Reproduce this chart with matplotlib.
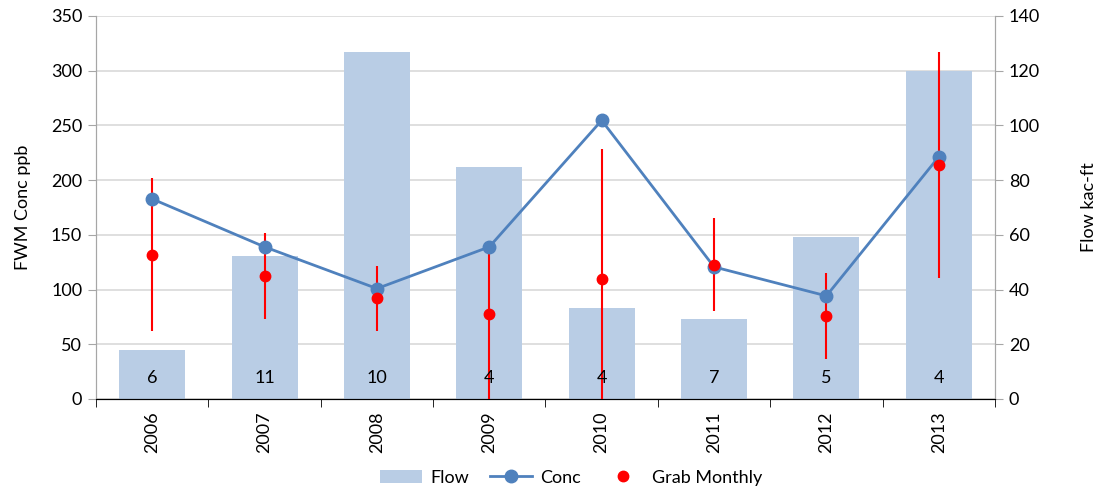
import matplotlib
matplotlib.use("Agg")
import matplotlib.pyplot as plt
import numpy as np
from matplotlib.lines import Line2D
from matplotlib.patches import Patch

plt.rcParams['font.family'] = ['Lato', 'DejaVu Sans']

years = ["2006", "2007", "2008", "2009", "2010", "2011", "2012", "2013"]
flow = [17.9, 52.3, 126.9, 84.9, 33.4, 29.3, 59.2, 120.0]          # kac-ft (right axis)
conc = [182.8, 139.0, 100.9, 139.0, 254.6, 120.7, 94.2, 221.3]       # FWM conc ppb
grab = [131.9, 112.4, 92.4, 78.1, 110.0, 122.8, 76.0, 214.0]         # grab monthly mean
grab_hi = [201.7, 151.7, 121.5, 139.0, 228.7, 165.5, 115.5, 317.4]
grab_lo = [62.2, 73.1, 62.1, 0.0, 0.0, 80.3, 36.7, 110.7]
counts = ["6", "11", "10", "4", "4", "7", "5", "4"]

BAR = "#B9CDE5"
LINE = "#4F81BD"
RED = "#FF0000"
GRID = "#D9D9D9"
SPINE = "#A6A6A6"

fig = plt.figure(figsize=(11, 4.95), dpi=100)
ax2 = fig.add_axes([0.0873, 0.194, 0.8172, 0.7737])
ax1 = ax2.twinx()
ax1.yaxis.tick_left(); ax1.yaxis.set_label_position("left")
ax2.yaxis.tick_right(); ax2.yaxis.set_label_position("right")
ax1.set_zorder(ax2.get_zorder() + 1)
ax1.patch.set_visible(False)

x = np.arange(len(years))

ax2.bar(x, flow, width=0.587, color=BAR, zorder=2)
ax2.set_ylim(0, 140)
ax2.set_yticks(np.arange(0, 141, 20))
ax2.yaxis.grid(True, color=GRID, linewidth=1.2, zorder=0)
ax2.set_axisbelow(True)

ax1.set_ylim(0, 350)
ax1.set_yticks(np.arange(0, 351, 50))
ax1.set_xlim(-0.5, len(years) - 0.5)

lo_err = np.array(grab) - np.array(grab_lo)
hi_err = np.array(grab_hi) - np.array(grab)
ax1.errorbar(x, grab, yerr=[lo_err, hi_err], fmt='none', ecolor=RED,
             elinewidth=1.5, capsize=0, zorder=3)
ax1.plot(x, conc, color=LINE, linewidth=2.0, marker='o', markersize=9,
         zorder=4)
ax1.plot(x, grab, linestyle='none', marker='o', color=RED, markersize=7.5,
         zorder=5)

for xi, c in zip(x, counts):
    ax1.text(xi, 19, c, ha='center', va='center', fontsize=13, color='black',
             zorder=6)

for a in (ax1, ax2):
    a.set_xticks(x)
    a.set_xticks(np.arange(-0.5, len(years), 1.0), minor=True)
    a.spines['top'].set_visible(False)
    a.spines['left'].set_color(SPINE)
    a.spines['right'].set_color(SPINE)
    a.spines['bottom'].set_color('black')

ax2.set_xticklabels(years, rotation=90, fontsize=13)
ax2.tick_params(axis='x', which='major', length=0, pad=9)
ax2.tick_params(axis='x', which='minor', length=6, color='black', direction='out')
ax1.tick_params(axis='x', which='both', length=0, labelbottom=False)

ax1.tick_params(axis='y', length=6, color=SPINE, labelsize=13, pad=4)
ax2.tick_params(axis='y', length=6, color=SPINE, labelsize=13, pad=4)

ax1.set_ylabel("FWM Conc ppb", fontsize=13)
ax2.set_ylabel("Flow kac-ft", fontsize=13)
ax1.yaxis.set_label_coords(-0.072, 0.5)
ax2.yaxis.set_label_coords(1.0957, 0.5)

handles = [
    Patch(facecolor=BAR, edgecolor='none', label='Flow'),
    Line2D([0], [0], color=LINE, linewidth=2.0, marker='o', markersize=9, label='Conc'),
    Line2D([0], [0], color=RED, linestyle='none', marker='o', markersize=7.5, label='Grab Monthly'),
]
fig.legend(handles=handles, loc='center', bbox_to_anchor=(0.5195, 0.035), ncol=3,
           frameon=False, fontsize=13, handlelength=2.3, columnspacing=1.2,
           handletextpad=0.45)

fig.savefig("out.png", dpi=100)
